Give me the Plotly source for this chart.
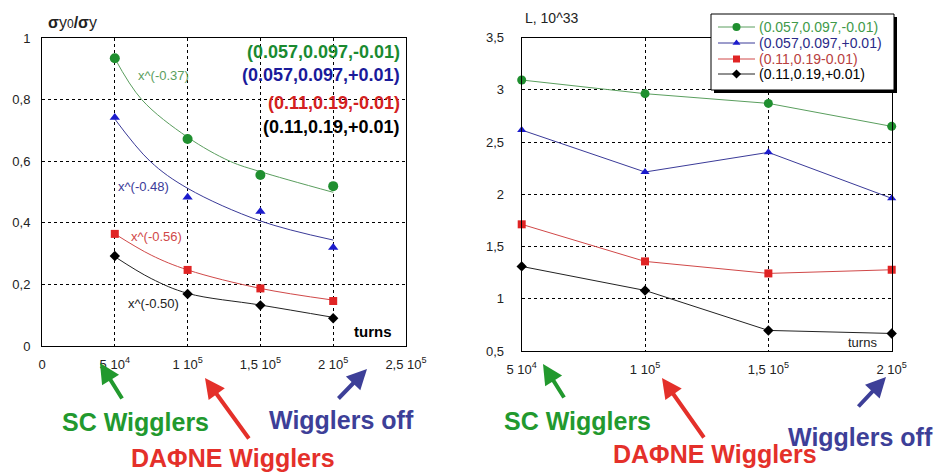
import plotly.graph_objects as go

W, H = 935, 473
FONT = "Liberation Sans, Arial, sans-serif"

# ---------------- data ----------------
turns = [5e4, 1e5, 1.5e5, 2e5]
series_names = ["(0.057,0.097,-0.01)", "(0.057,0.097,+0.01)", "(0.11,0.19,-0.01)", "(0.11,0.19,+0.01)"]
legend_names = ["(0.057,0.097,-0.01)", "(0.057,0.097,+0.01)", "(0.11,0.19-0.01)", "(0.11,0.19,+0.01)"]

# left: sigma_y0 / sigma_y
ratio_g = [0.934, 0.672, 0.555, 0.519]
ratio_b = [0.742, 0.483, 0.437, 0.320]
ratio_r = [0.364, 0.247, 0.187, 0.146]
ratio_k = [0.292, 0.169, 0.132, 0.090]

# fitted curves
fit_g_x = [5e4, 6.85e4, 1e5, 1.29e5, 1.5e5, 2e5]
fit_g_y = [0.934, 0.800, 0.678, 0.600, 0.566, 0.499]
fit_b_x = [5e4, 7.42e4, 1e5, 1.5e5, 2e5]
fit_b_y = [0.737, 0.600, 0.512, 0.406, 0.344]
fit_r_x = [5e4, 7.5e4, 1e5, 1.5e5, 2e5]
fit_r_y = [0.364, 0.295, 0.247, 0.187, 0.149]
fit_k_x = [5e4, 7.5e4, 1e5, 1.5e5, 2e5]
fit_k_y = [0.290, 0.219, 0.171, 0.133, 0.093]
fit_labels = ["x^(-0.37)", "x^(-0.48)", "x^(-0.56)", "x^(-0.50)"]

# right: luminosity, 10^33
lum_g = [3.095, 2.964, 2.871, 2.651]
lum_b = [2.616, 2.214, 2.402, 1.962]
lum_r = [1.713, 1.358, 1.243, 1.278]
lum_k = [1.310, 1.080, 0.697, 0.668]

left_xticks = [0, 5e4, 1e5, 1.5e5, 2e5, 2.5e5]
left_xtext = ["0", "5 10<sup>4</sup>", "1 10<sup>5</sup>", "1,5 10<sup>5</sup>", "2 10<sup>5</sup>", "2,5 10<sup>5</sup>"]
left_yticks = [0, 0.2, 0.4, 0.6, 0.8, 1.0]
left_ytext = ["0", "0,2", "0,4", "0,6", "0,8", "1"]
right_xticks = [5e4, 1e5, 1.5e5, 2e5]
right_xtext = ["5 10<sup>4</sup>", "1 10<sup>5</sup>", "1,5 10<sup>5</sup>", "2 10<sup>5</sup>"]
right_yticks = [0.5, 1, 1.5, 2, 2.5, 3, 3.5]
right_ytext = ["0,5", "1", "1,5", "2", "2,5", "3", "3,5"]

# ---------------- styles ----------------
mk_col = ["#1f8f2f", "#1c1ccc", "#e02424", "#000000"]
fit_col = ["#5a9e5e", "#3a3a98", "#d04848", "#222222"]
leg_col = ["#1a8a30", "#1a1a9a", "#d42020", "#000000"]
rleg_col = ["#3f9a4a", "#2a2a88", "#b84040", "#000000"]
symbols = ["circle", "triangle-up", "square", "diamond"]
msize_l = [10, 9, 8, 8]
msize_r = [9, 8, 8, 8]

def px(x):
    return x / W

def py(y):
    return 1 - y / H

fig = go.Figure()

ratios = [ratio_g, ratio_b, ratio_r, ratio_k]
fits = [(fit_g_x, fit_g_y), (fit_b_x, fit_b_y), (fit_r_x, fit_r_y), (fit_k_x, fit_k_y)]
lums = [lum_g, lum_b, lum_r, lum_k]

for i in range(4):
    fig.add_trace(go.Scatter(x=fits[i][0], y=fits[i][1], mode="lines", line=dict(color=fit_col[i], width=1, shape="spline"),
                             showlegend=False, xaxis="x", yaxis="y", hoverinfo="skip"))
for i in range(4):
    fig.add_trace(go.Scatter(x=turns, y=ratios[i], mode="markers",
                             marker=dict(symbol=symbols[i], size=msize_l[i], color=mk_col[i]),
                             showlegend=False, xaxis="x", yaxis="y", cliponaxis=False, name=series_names[i]))
for i in range(4):
    fig.add_trace(go.Scatter(x=turns, y=lums[i], mode="lines+markers",
                             line=dict(color=fit_col[i], width=1),
                             marker=dict(symbol=symbols[i], size=msize_r[i], color=mk_col[i]),
                             name=legend_names[i], showlegend=False,
                             xaxis="x2", yaxis="y2", cliponaxis=False))

# ---- hand-drawn legend box (own pixel-scaled hidden axes on top of the right plot) ----
LX0, LX1, LY0, LY1 = 711, 894, 14, 90
SH = 3
fig.add_trace(go.Scatter(x=[LX0 + SH, LX1 + SH, LX1 + SH, LX0 + SH, LX0 + SH],
                         y=[LY0 + SH, LY0 + SH, LY1 + SH, LY1 + SH, LY0 + SH],
                         fill="toself", fillcolor="black", mode="lines", line=dict(color="black", width=0),
                         showlegend=False, hoverinfo="skip", xaxis="x3", yaxis="y3"))
fig.add_trace(go.Scatter(x=[LX0, LX1, LX1, LX0, LX0], y=[LY0, LY0, LY1, LY1, LY0],
                         fill="toself", fillcolor="white", mode="lines", line=dict(color="black", width=1),
                         showlegend=False, hoverinfo="skip", xaxis="x3", yaxis="y3"))
row_y = [27, 43, 59, 74]
for i in range(4):
    fig.add_trace(go.Scatter(x=[718, 736.5, 755], y=[row_y[i]] * 3, mode="lines",
                             line=dict(color=fit_col[i], width=1), showlegend=False, hoverinfo="skip",
                             xaxis="x3", yaxis="y3"))
    fig.add_trace(go.Scatter(x=[736.5], y=[row_y[i]], mode="markers",
                             marker=dict(symbol=symbols[i], size=msize_r[i] - 1, color=mk_col[i]),
                             showlegend=False, hoverinfo="skip", xaxis="x3", yaxis="y3", cliponaxis=False))

axis_common = dict(showline=True, linecolor="black", linewidth=1, mirror=True,
                   showgrid=True, gridcolor="black", gridwidth=1, griddash="3px,3px",
                   zeroline=False, ticks="", automargin=False,
                   tickfont=dict(family=FONT, size=13, color="#222"))
hidden = dict(visible=False, showgrid=False, zeroline=False, automargin=False, fixedrange=True)

fig.update_layout(
    width=W, height=H,
    margin=dict(l=0, r=0, t=0, b=0),
    paper_bgcolor="white", plot_bgcolor="rgba(0,0,0,0)",
    font=dict(family=FONT, color="black"),
    showlegend=False,
    xaxis=dict(domain=[px(42), px(406)], range=[0, 2.5e5], tickvals=left_xticks, ticktext=left_xtext,
               anchor="y", ticklabelstandoff=6, **axis_common),
    yaxis=dict(domain=[py(346), py(38)], range=[0, 1], tickvals=left_yticks, ticktext=left_ytext,
               anchor="x", ticklabelstandoff=8, **axis_common),
    xaxis2=dict(domain=[px(521.7), px(891.7)], range=[5e4, 2e5], tickvals=right_xticks, ticktext=right_xtext,
                anchor="y2", ticklabelstandoff=6, **axis_common),
    yaxis2=dict(domain=[py(351), py(37.7)], range=[0.5, 3.5], tickvals=right_yticks, ticktext=right_ytext,
                anchor="x2", ticklabelstandoff=14, **axis_common),
    xaxis3=dict(domain=[px(LX0 - 2), px(LX1 + SH + 2)], range=[LX0 - 2, LX1 + SH + 2], anchor="y3", **hidden),
    yaxis3=dict(domain=[py(LY1 + SH + 2), py(LY0 - 2)], range=[LY1 + SH + 2, LY0 - 2], anchor="x3", **hidden),
)

ann = []
# left chart legend texts
leg_y = [52, 75, 103, 127]
for i in range(4):
    ann.append(dict(x=px(402), y=py(leg_y[i]), xref="paper", yref="paper", xanchor="right", yanchor="middle",
                    text=f"<b>{series_names[i]}</b>", showarrow=False,
                    font=dict(family=FONT, size=18, color=leg_col[i])))
# right chart legend texts
for i in range(4):
    ann.append(dict(x=px(757), y=py(row_y[i]), xref="paper", yref="paper", xanchor="left", yanchor="middle",
                    text=legend_names[i], showarrow=False,
                    font=dict(family=FONT, size=14, color=rleg_col[i])))
# fit labels
fit_pos = [(136, 75), (116, 186), (129, 236), (126, 303)]
for i in range(4):
    ann.append(dict(x=px(fit_pos[i][0]), y=py(fit_pos[i][1]), xref="paper", yref="paper", xanchor="left", yanchor="middle",
                    text=fit_labels[i], showarrow=False, font=dict(family=FONT, size=13, color=fit_col[i])))
# axis titles
ann.append(dict(x=px(46), y=py(23), xref="paper", yref="paper", xanchor="left", yanchor="middle",
                text="<b>σ</b>y<span style='font-size:12px'>0</span><b>/σ</b>y", showarrow=False,
                font=dict(family=FONT, size=16, color="#222")))
ann.append(dict(x=px(523), y=py(18), xref="paper", yref="paper", xanchor="left", yanchor="middle",
                text="L, 10^33", showarrow=False, font=dict(family=FONT, size=14, color="#222")))
ann.append(dict(x=px(394), y=py(331), xref="paper", yref="paper", xanchor="right", yanchor="middle",
                text="<b>turns</b>", showarrow=False, font=dict(family=FONT, size=15, color="black")))
ann.append(dict(x=px(879), y=py(342), xref="paper", yref="paper", xanchor="right", yanchor="middle",
                text="turns", showarrow=False, font=dict(family=FONT, size=13, color="#222")))

# bottom labels with arrows
GREEN, RED, BLUE = "#22992e", "#e4302a", "#3d3f98"
labels = [
    ("SC Wigglers", GREEN, 135, 422), ("DAΦNE Wigglers", RED, 233, 458), ("Wigglers off", BLUE, 341, 420),
    ("SC Wigglers", GREEN, 577, 421), ("DAΦNE Wigglers", RED, 715, 454), ("Wigglers off", BLUE, 860, 437),
]
for t, c, x, y in labels:
    ann.append(dict(x=px(x), y=py(y), xref="paper", yref="paper", xanchor="center", yanchor="middle",
                    text=f"<b>{t}</b>", showarrow=False, font=dict(family=FONT, size=25, color=c)))
arrows = [
    (GREEN, 100, 363, 123, 400), (RED, 205, 378, 250, 440), (BLUE, 367, 369, 337, 400),
    (GREEN, 543, 364, 565, 399), (RED, 662, 378, 705, 439), (BLUE, 886, 377, 857, 408),
]
for c, hx, hy, tx, ty in arrows:
    ann.append(dict(x=px(hx), y=py(hy), xref="paper", yref="paper", text="", showarrow=True,
                    ax=tx - hx, ay=ty - hy, axref="pixel", ayref="pixel",
                    arrowhead=2, arrowsize=1.0, arrowwidth=4, arrowcolor=c, standoff=0, startstandoff=0))

fig.update_layout(annotations=ann)
fig.write_html("out.html", config={"displayModeBar": False},
               post_script="document.body.style.margin='0';document.body.style.padding='0';document.body.style.overflow='hidden';")
